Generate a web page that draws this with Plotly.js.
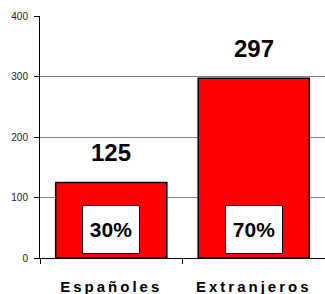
<!DOCTYPE html>
<html>
<head>
<meta charset="utf-8">
<script src="https://cdn.plot.ly/plotly-3.0.1.min.js"></script>
<style>
html,body{margin:0;padding:0;background:#fff;}
#chart{width:325px;height:294px;}
.xtick text{letter-spacing:3px;}
</style>
</head>
<body>
<div id="chart"></div>
<script>
var categories = ["Españoles", "Extranjeros"];
var values = [125, 297];
var percents = ["30%", "70%"];
var yTicks = [0, 100, 200, 300, 400];

var annotations = [];
for (var i = 0; i < categories.length; i++) {
  annotations.push({
    x: categories[i], y: values[i], xref: 'x', yref: 'y',
    text: '<b>' + values[i] + '</b>', showarrow: false,
    yanchor: 'bottom', yshift: 14,
    font: {family: 'Liberation Sans, Arial, sans-serif', size: 24, color: '#000'}
  });
  annotations.push({
    x: categories[i], y: 0, xref: 'x', yref: 'y',
    text: '<b>' + percents[i] + '</b>', showarrow: false,
    yanchor: 'bottom', yshift: 4,
    width: 54, height: 45,
    bgcolor: '#fff', bordercolor: '#000', borderwidth: 1,
    font: {family: 'Liberation Sans, Arial, sans-serif', size: 21, color: '#000'}
  });
}

var trace = {
  type: 'bar', x: categories, y: values,
  marker: {color: '#ff0000', line: {color: '#000', width: 1.5}},
  width: 0.78, hoverinfo: 'none'
};

var layout = {
  width: 325, height: 294,
  margin: {l: 40, r: 0, t: 16, b: 36},
  paper_bgcolor: '#fff', plot_bgcolor: '#fff',
  showlegend: false,
  xaxis: {
    type: 'category', tickson: 'boundaries', ticks: 'outside', ticklen: 5,
    tickcolor: '#000', showline: true, linecolor: '#000', linewidth: 1,
    showgrid: false, zeroline: false,
    ticklabelstandoff: 15,
    tickfont: {family: 'Liberation Sans, Arial, sans-serif', size: 15, color: '#000', weight: 'bold'}
  },
  yaxis: {
    range: [0, 400], tickvals: yTicks, ticks: 'outside', ticklen: 5,
    tickcolor: '#000', showline: true, linecolor: '#000', linewidth: 1,
    showgrid: true, gridcolor: '#808080', gridwidth: 1, zeroline: false,
    tickfont: {family: 'Liberation Sans, Arial, sans-serif', size: 10, color: '#222'},
    ticklabelstandoff: 4
  },
  annotations: annotations
};

Plotly.newPlot('chart', [trace], layout, {staticPlot: true, displayModeBar: false});
</script>
</body>
</html>
